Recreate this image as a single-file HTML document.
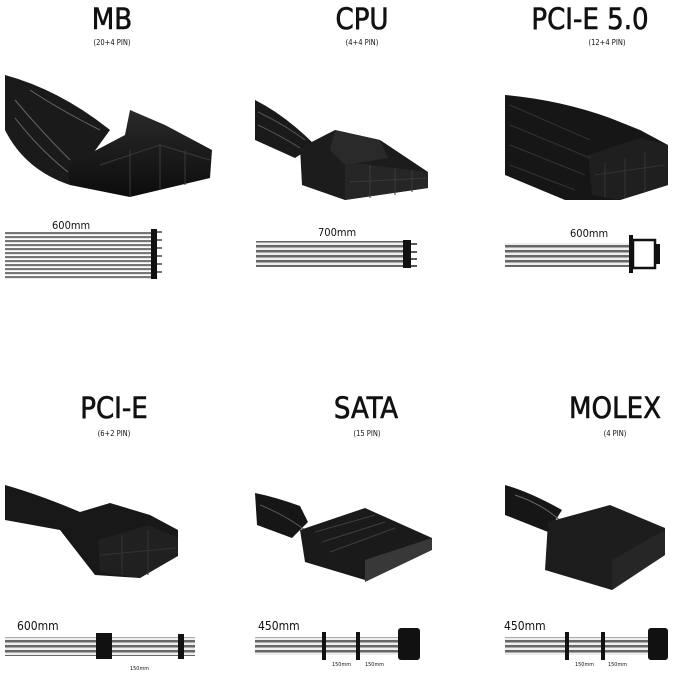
<!DOCTYPE html>
<html><head><meta charset="utf-8"><style>
html,body{margin:0;padding:0;background:#fff}
svg{display:block}
text{font-family:"DejaVu Sans Condensed","Liberation Sans",sans-serif;fill:#111}
.t{stroke:#111;stroke-width:0.6}
</style></head><body>
<svg width="679" height="677" viewBox="0 0 679 677" xmlns="http://www.w3.org/2000/svg">
<defs>
<linearGradient id="g" x1="0" y1="0" x2="0" y2="1"><stop offset="0" stop-color="#2a2a2a"/><stop offset="1" stop-color="#0c0c0c"/></linearGradient>
<pattern id="ln" width="4" height="4" patternUnits="userSpaceOnUse"><rect width="4" height="4" fill="#fff"/><rect width="4" height="2.2" fill="#777"/></pattern>
<pattern id="ln2" width="4" height="5" patternUnits="userSpaceOnUse"><rect width="4" height="5" fill="#eee"/><rect width="4" height="2.5" fill="#666"/></pattern>
</defs>
<g text-anchor="middle">
<text class="t" x="112" y="29" font-size="29">MB</text><text x="112" y="45" font-size="7.5">(20+4 PIN)</text>
<text class="t" x="362" y="29" font-size="29">CPU</text><text x="362" y="45" font-size="7.5">(4+4 PIN)</text>
<text class="t" x="590" y="29" font-size="29">PCI-E 5.0</text><text x="607" y="45" font-size="7.5">(12+4 PIN)</text>
<text class="t" x="114" y="418" font-size="29">PCI-E</text><text x="114" y="436" font-size="7.5">(6+2 PIN)</text>
<text class="t" x="366" y="418" font-size="29">SATA</text><text x="367" y="436" font-size="7.5">(15 PIN)</text>
<text class="t" x="615" y="418" font-size="29">MOLEX</text><text x="615" y="436" font-size="7.5">(4 PIN)</text>
</g>
<!-- MB photo -->
<path d="M5 75 L5 130 Q25 170 70 185 L110 130 Q60 90 5 75Z" fill="#1a1a1a"/>
<g stroke="#666" stroke-width="1" fill="none"><path d="M15 100 Q40 130 70 160"/><path d="M15 118 Q40 150 68 172"/><path d="M30 90 Q60 110 100 130"/></g>
<path d="M68 165 L125 135 L130 110 L165 125 L212 150 L210 178 L130 197 L70 185Z" fill="url(#g)"/>
<g stroke="#3a3a3a" fill="none"><path d="M100 165 L160 145 L210 160 M130 150 L130 197 M160 145 L160 190 M185 150 L185 185"/></g>
<!-- CPU photo -->
<path d="M255 100 L255 140 L295 158 L315 145 Q285 115 255 100Z" fill="#1a1a1a"/>
<g stroke="#555" fill="none"><path d="M258 112 Q285 125 305 140 M258 125 Q285 138 303 150"/></g>
<path d="M300 148 L335 130 L380 140 L428 172 L428 188 L345 200 L302 185Z" fill="#1c1c1c"/>
<path d="M345 162 L428 172 L428 188 L345 200Z" fill="#262626"/>
<path d="M335 130 L380 140 L388 158 L345 165 L330 150Z" fill="#2a2a2a"/>
<g stroke="#3a3a3a" fill="none"><path d="M350 182 L426 178 M370 165 L370 198 M395 168 L395 195 M412 170 L412 192"/></g>
<!-- PCI-E 5.0 photo -->
<path d="M505 95 L505 175 L565 200 L620 200 L668 185 L668 145 L640 130 L610 118 Q560 100 505 95Z" fill="#161616"/>
<path d="M588 155 L640 138 L668 145 L668 185 L620 200 L592 195Z" fill="#1f1f1f"/>
<g stroke="#333" fill="none"><path d="M510 105 L590 140 M510 125 L590 158 M510 145 L585 175 M510 165 L575 190"/><path d="M595 175 L665 165 M605 162 L605 198 M625 158 L625 198 M645 152 L645 192"/></g>
<!-- PCI-E photo -->
<path d="M5 485 L5 520 L60 530 L95 575 L140 578 L178 555 L178 530 L150 515 L110 503 L80 512 Q40 495 5 485Z" fill="#181818"/>
<path d="M98 540 L148 525 L178 538 L178 556 L140 578 L100 572Z" fill="#202020"/>
<g stroke="#333" fill="none"><path d="M100 555 L176 548 M122 535 L122 575 M148 530 L148 575"/></g>
<!-- SATA photo -->
<path d="M255 493 L257 525 L292 538 L308 522 L300 506 Q275 497 255 493Z" fill="#161616"/>
<g stroke="#555" fill="none"><path d="M260 505 Q285 515 305 530"/></g>
<path d="M300 530 L365 508 L432 538 L432 548 L365 580 L305 562Z" fill="#1a1a1a"/>
<path d="M365 560 L432 538 L432 550 L365 582Z" fill="#383838"/>
<g stroke="#3e3e3e" fill="none"><path d="M315 532 L375 515 M322 542 L385 522 M330 552 L395 528"/></g>
<!-- MOLEX photo -->
<path d="M505 485 L505 515 L548 532 L562 510 Q530 492 505 485Z" fill="#161616"/>
<path d="M515 495 Q545 505 565 525" stroke="#666" fill="none"/>
<path d="M548 522 L610 505 L665 528 L665 555 L612 590 L545 570Z" fill="#1d1d1d"/>
<path d="M612 560 L665 530 L665 555 L612 590Z" fill="#262626"/>
<!-- MB diagram -->
<text x="52" y="229" font-size="11">600mm</text>
<rect x="5" y="231" width="148" height="48" fill="url(#ln)"/>
<rect x="151" y="229" width="6" height="50" fill="#111"/>
<g stroke="#222" stroke-width="1.2"><path d="M157 232 H162 M157 240 H162 M157 248 H162 M157 256 H162 M157 264 H162 M157 272 H162"/></g>
<!-- CPU diagram -->
<text x="318" y="236" font-size="11">700mm</text>
<rect x="256" y="241" width="150" height="26" fill="url(#ln2)"/>
<rect x="403" y="240" width="8" height="28" fill="#111"/>
<g stroke="#222" stroke-width="1.5"><path d="M411 244 H417 M411 252 H417 M411 259 H417 M411 266 H417"/></g>
<!-- PCIE5 diagram -->
<text x="570" y="237" font-size="11">600mm</text>
<rect x="505" y="243" width="127" height="24" fill="url(#ln2)"/>
<rect x="629" y="235" width="4" height="38" fill="#111"/>
<rect x="633" y="240" width="22" height="28" fill="#fff" stroke="#111" stroke-width="2.5"/>
<rect x="655" y="244" width="5" height="20" fill="#111"/>
<!-- PCIE diagram -->
<text x="17" y="630" font-size="12">600mm</text>
<rect x="5" y="637" width="190" height="19" fill="url(#ln2)"/>
<rect x="96" y="633" width="16" height="26" fill="#111"/>
<rect x="178" y="634" width="6" height="25" fill="#111"/>
<text x="130" y="670" font-size="5.5">150mm</text>
<!-- SATA diagram -->
<text x="258" y="630" font-size="12">450mm</text>
<rect x="255" y="637" width="152" height="18" fill="url(#ln2)"/>
<rect x="322" y="632" width="4" height="28" fill="#111"/>
<rect x="356" y="632" width="4" height="28" fill="#111"/>
<rect x="398" y="628" width="22" height="32" rx="3" fill="#111"/>
<text x="332" y="666" font-size="5.5">150mm</text><text x="365" y="666" font-size="5.5">150mm</text>
<!-- MOLEX diagram -->
<text x="504" y="630" font-size="12">450mm</text>
<rect x="505" y="637" width="152" height="18" fill="url(#ln2)"/>
<rect x="565" y="632" width="4" height="28" fill="#111"/>
<rect x="601" y="632" width="4" height="28" fill="#111"/>
<rect x="648" y="628" width="20" height="32" rx="3" fill="#111"/>
<text x="575" y="666" font-size="5.5">150mm</text><text x="608" y="666" font-size="5.5">150mm</text>
</svg>
</body></html>
